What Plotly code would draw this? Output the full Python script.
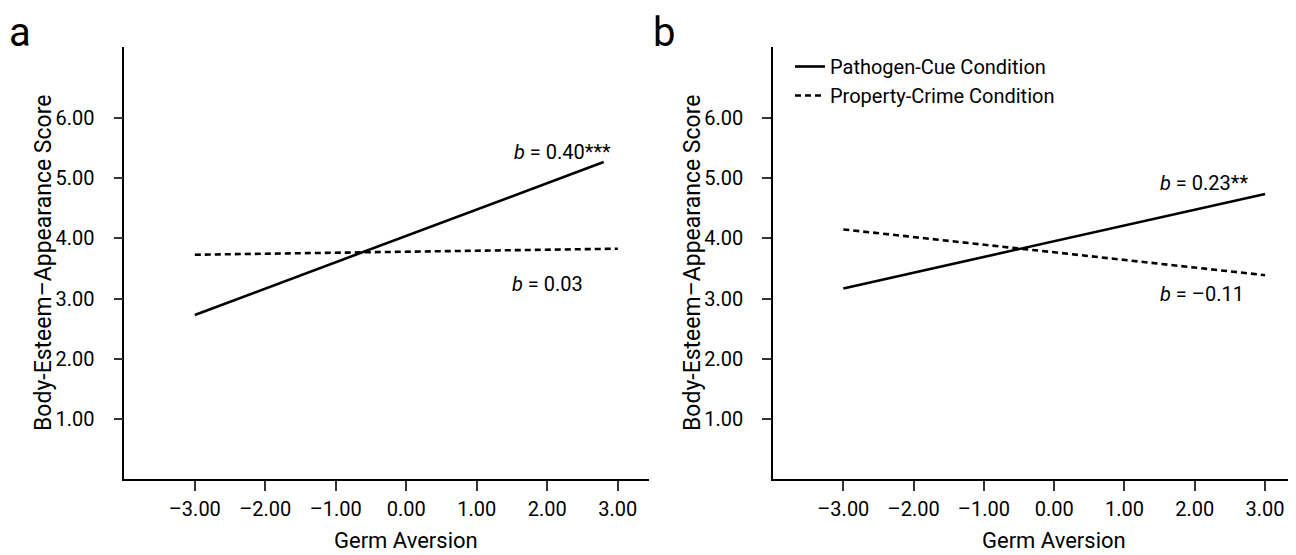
import plotly.graph_objects as go

# ---- data ----
germ_aversion_a_solid = [-3.0, 2.8]
body_esteem_a_solid = [2.73, 5.27]
germ_aversion_a_dashed = [-3.0, 3.0]
body_esteem_a_dashed = [3.73, 3.83]

germ_aversion_b_solid = [-3.0, 3.0]
body_esteem_b_solid = [3.17, 4.74]
germ_aversion_b_dashed = [-3.0, 3.0]
body_esteem_b_dashed = [4.15, 3.39]

x_tick_vals = [-3, -2, -1, 0, 1, 2, 3]
x_tick_text = ["\u20133.00", "\u20132.00", "\u20131.00", "0.00", "1.00", "2.00", "3.00"]
y_tick_vals = [1, 2, 3, 4, 5, 6]
y_tick_text = ["1.00", "2.00", "3.00", "4.00", "5.00", "6.00"]

series_names = ["Pathogen-Cue Condition", "Property-Crime Condition"]
slope_labels_a = ["<i>b</i> = 0.40***", "<i>b</i> = 0.03"]
slope_labels_b = ["<i>b</i> = 0.23**", "<i>b</i> = \u20130.11"]

FONT = "Roboto, Liberation Sans, Arial, sans-serif"
OFF = 8                      # page body margin of the html page
W, H = 1296 - OFF, 555 - OFF


def px(xp):
    return (xp - OFF) / W


def py(yp):
    return 1 - (yp - OFF) / H


fig = go.Figure()

solid = dict(color="black", width=2.6)
dashed = dict(color="black", width=2.6, dash="6px,4px")

fig.add_trace(go.Scatter(x=germ_aversion_a_solid, y=body_esteem_a_solid, mode="lines",
                         line=solid, showlegend=False, xaxis="x", yaxis="y"))
fig.add_trace(go.Scatter(x=germ_aversion_a_dashed, y=body_esteem_a_dashed, mode="lines",
                         line=dashed, showlegend=False, xaxis="x", yaxis="y"))
fig.add_trace(go.Scatter(x=germ_aversion_b_solid, y=body_esteem_b_solid, mode="lines",
                         line=solid, name=series_names[0], xaxis="x2", yaxis="y2"))
fig.add_trace(go.Scatter(x=germ_aversion_b_dashed, y=body_esteem_b_dashed, mode="lines",
                         line=dashed, name=series_names[1], xaxis="x2", yaxis="y2"))

ydom = [py(479.3), py(47)]
xdom_a = [px(124.3), px(648.8)]
xdom_b = [px(773.0), 1.0]

xcommon = dict(range=[-4.0, 3.44], tickvals=x_tick_vals, ticktext=x_tick_text,
               showline=True, linecolor="black", linewidth=1.5, ticks="outside",
               ticklen=10, tickwidth=1.5, tickcolor="#333", showgrid=False, zeroline=False,
               tickfont=dict(family=FONT, size=20, color="black"), ticklabelstandoff=1)
ycommon = dict(range=[0, 7.18], tickvals=y_tick_vals, ticktext=y_tick_text,
               showline=True, linecolor="black", linewidth=1.5, ticks="outside",
               ticklen=9, tickwidth=1.5, tickcolor="#333", showgrid=False, zeroline=False,
               tickfont=dict(family=FONT, size=20, color="black"), ticklabelstandoff=15)

fig.update_layout(
    width=W, height=H,
    margin=dict(l=0, r=0, t=0, b=0),
    paper_bgcolor="white", plot_bgcolor="white",
    font=dict(family=FONT, size=20, color="black"),
    xaxis=dict(domain=xdom_a, anchor="y", **xcommon),
    yaxis=dict(domain=ydom, anchor="x", **ycommon),
    xaxis2=dict(domain=xdom_b, anchor="y2", **xcommon),
    yaxis2=dict(domain=ydom, anchor="x2", **ycommon),
    legend=dict(x=px(790), y=py(47), xanchor="left", yanchor="top",
                bgcolor="rgba(0,0,0,0)", borderwidth=0,
                font=dict(family=FONT, size=20, color="black"),
                tracegroupgap=0, itemwidth=30),
    showlegend=True,
)

ann = []
# slope labels
ann.append(dict(x=1.50, y=5.43, xref="x", yref="y", text=slope_labels_a[0], showarrow=False,
                xanchor="left", yanchor="middle"))
ann.append(dict(x=1.47, y=3.24, xref="x", yref="y", text=slope_labels_a[1], showarrow=False,
                xanchor="left", yanchor="middle"))
ann.append(dict(x=1.47, y=4.92, xref="x2", yref="y2", text=slope_labels_b[0], showarrow=False,
                xanchor="left", yanchor="middle"))
ann.append(dict(x=1.47, y=3.08, xref="x2", yref="y2", text=slope_labels_b[1], showarrow=False,
                xanchor="left", yanchor="middle"))
# axis titles
for xr, ycx in [("x", 43), ("x2", 692)]:
    ann.append(dict(x=px(ycx), y=py(263), xref="paper", yref="paper",
                    text="Body-Esteem\u2013Appearance Score", textangle=-90, showarrow=False,
                    xanchor="center", yanchor="middle", font=dict(size=23)))
    ann.append(dict(x=0, y=py(540), xref=xr, yref="paper", text="Germ Aversion",
                    showarrow=False, xanchor="center", yanchor="middle", font=dict(size=22)))
# panel letters
ann.append(dict(x=px(8), y=1.0, xref="paper", yref="paper", text="a", showarrow=False,
                xanchor="left", yanchor="top", borderpad=0, font=dict(size=40)))
ann.append(dict(x=px(652), y=1.0, xref="paper", yref="paper", text="b", showarrow=False,
                xanchor="left", yanchor="top", borderpad=0, font=dict(size=40)))

fig.update_layout(annotations=ann)
fig.write_html("out.html")
